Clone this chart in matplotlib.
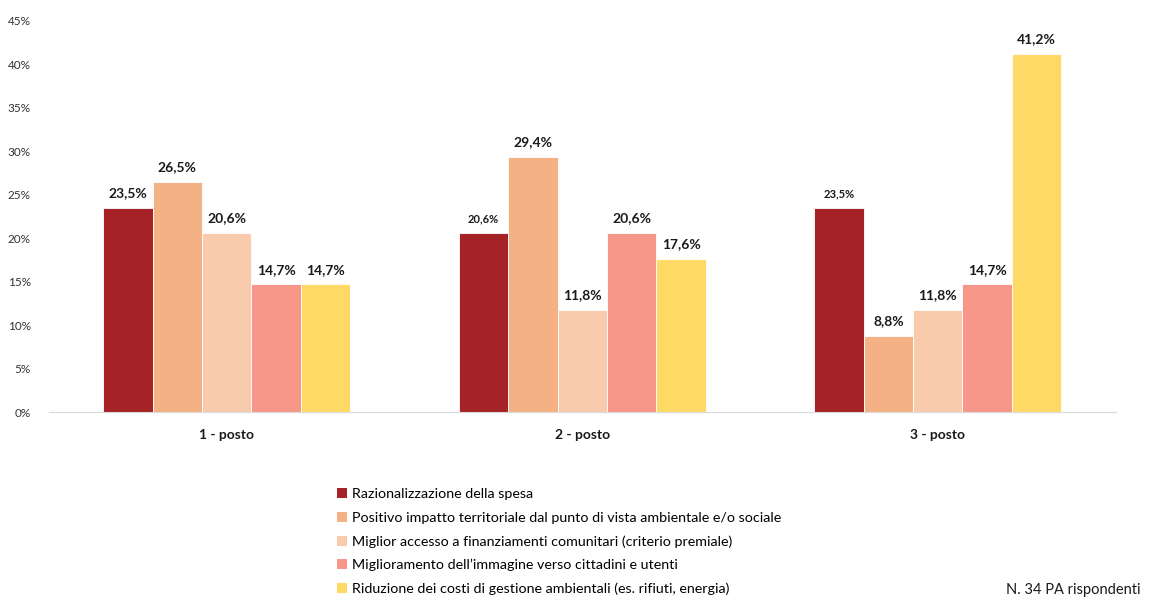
import numpy as np
import matplotlib.pyplot as plt
from matplotlib.patches import Patch

plt.rcParams['font.family'] = ['Lato', 'DejaVu Sans']

# dati
categorie = ['1 - posto', '2 - posto', '3 - posto']
serie = ['Razionalizzazione della spesa',
         'Positivo impatto territoriale dal punto di vista ambientale e/o sociale',
         'Miglior accesso a finanziamenti comunitari (criterio premiale)',
         'Miglioramento dell\u2019immagine verso cittadini e utenti',
         'Riduzione dei costi di gestione ambientali (es. rifiuti, energia)']
razionalizzazione = [23.5, 20.6, 23.5]
impatto = [26.5, 29.4, 8.8]
finanziamenti = [20.6, 11.8, 11.8]
immagine = [14.7, 20.6, 14.7]
riduzione = [14.7, 17.6, 41.2]
valori = [razionalizzazione, impatto, finanziamenti, immagine, riduzione]

colori = ['#A52226', '#F4B183', '#F8CBAD', '#F7978A', '#FFD966']
# etichette piu piccole (serie, categoria)
piccole = [(0, 1), (0, 2)]

fig = plt.figure(figsize=(11.53, 5.99), dpi=100)
ax = fig.add_axes([0.0425, 0.312, 0.925, 0.653])

x = np.arange(len(categorie))
w = 0.139
for i, vals in enumerate(valori):
    pos = x + (i - 2) * w
    ax.bar(pos, vals, w, color=colori[i], edgecolor='white', linewidth=0.6)
    for j, v in enumerate(vals):
        size = 8 if (i, j) in piccole else 10
        ax.text(pos[j], v + 1.0, f'{v:.1f}%'.replace('.', ','), ha='center', va='bottom',
                fontsize=size, fontweight='bold', color='#1a1a1a')

ax.set_xlim(-0.5, 2.5)
ax.set_ylim(0, 45)
ax.set_yticks(np.arange(0, 46, 5))
ax.set_yticklabels([f'{t}%' for t in range(0, 46, 5)], fontsize=8.5, color='#333333')
ax.set_xticks(x)
ax.set_xticklabels(categorie, fontsize=10, fontweight='bold', color='#1a1a1a')
ax.tick_params(axis='both', length=0)
ax.tick_params(axis='x', pad=12)
ax.tick_params(axis='y', pad=13)
for s in ['top', 'right', 'left']:
    ax.spines[s].set_visible(False)
ax.spines['bottom'].set_color('#D9D9D9')

handles = [Patch(facecolor=c, edgecolor='none') for c in colori]
fig.legend(handles, serie, loc='upper left', bbox_to_anchor=(0.292, 0.185), frameon=False,
           fontsize=10.3, handlelength=0.7, handleheight=0.7, handletextpad=0.4,
           labelspacing=0.8, borderpad=0, borderaxespad=0)

fig.text(0.989, 0.004, 'N. 34 PA rispondenti', ha='right', va='bottom', fontsize=10.5, color='#1a1a1a')

fig.savefig('out.png', dpi=100)
